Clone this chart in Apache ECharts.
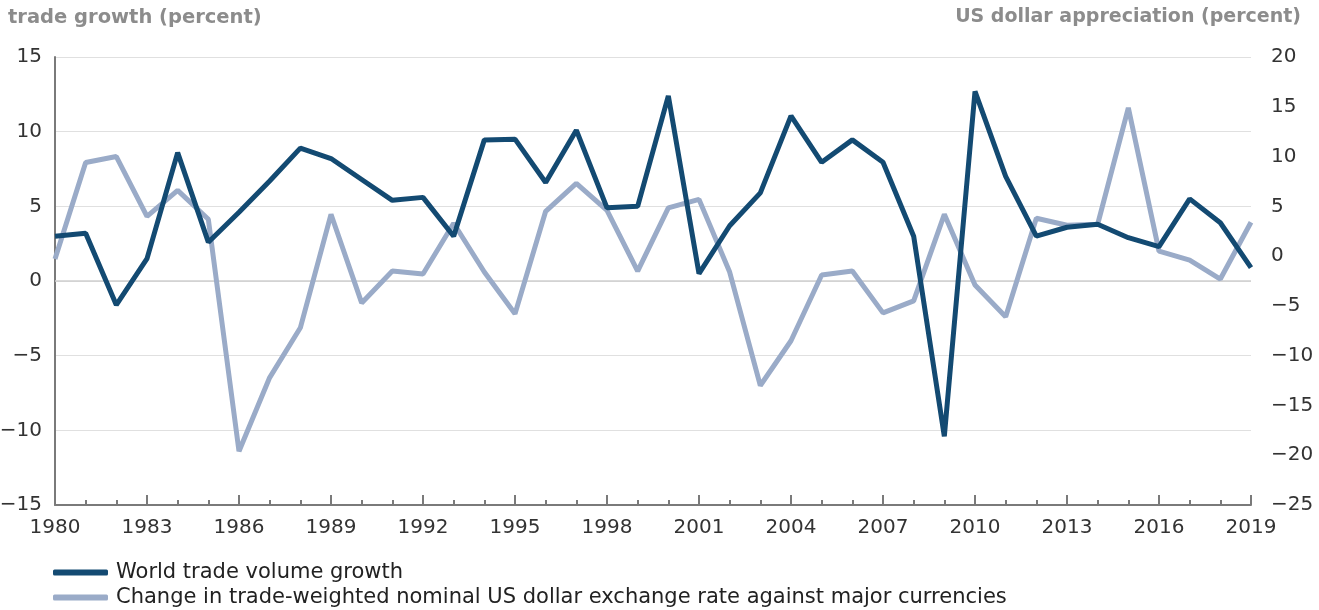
<!DOCTYPE html>
<html>
<head>
<meta charset="utf-8">
<script src="https://cdn.jsdelivr.net/npm/echarts@6/dist/echarts.min.js"></script>
<style>
  html, body { margin: 0; padding: 0; background: #fff; }
  #chart { width: 1319px; height: 610px; }
</style>
</head>
<body>
<div id="chart"></div>
<script>
const years = [];
for (let y = 1980; y <= 2019; y++) years.push(String(y));

// left axis: world trade volume growth (percent)
const tradeGrowth = [
  3.0, 3.2, -1.6, 1.5, 8.6, 2.6, 4.6, 6.7, 8.9, 8.2,
  6.8, 5.4, 5.6, 3.0, 9.45, 9.5, 6.6, 10.1, 4.9, 5.0,
  12.4, 0.5, 3.7, 5.9, 11.06, 7.95, 9.45, 7.95, 3.0, -10.4,
  12.7, 7.0, 3.0, 3.6, 3.8, 2.9, 2.3, 5.5, 3.9, 0.9
];
// right axis: US dollar appreciation (percent)
const dollarChange = [
  -0.3, 9.4, 10.0, 4.0, 6.6, 3.7, -19.6, -12.2, -7.2, 4.2,
  -4.7, -1.5, -1.8, 3.3, -1.6, -5.8, 4.5, 7.3, 4.6, -1.5,
  4.85, 5.7, -1.6, -13.0, -8.5, -1.9, -1.5, -5.7, -4.5, 4.2,
  -2.9, -6.1, 3.8, 3.1, 3.2, 14.9, 0.5, -0.4, -2.3, 3.4
];

const tradeName = 'World trade volume growth';
const dollarName = 'Change in trade-weighted nominal US dollar exchange rate against major currencies';

const darkBlue = '#134a72';
const lightBlue = '#9aabc8';
const font = '"DejaVu Sans", "Open Sans", sans-serif';
const minus = v => String(v).replace('-', '\u2212');

const legendBase = {
  left: 53, orient: 'vertical', padding: 0,
  itemWidth: 55, itemHeight: 6, itemGap: 0,
  icon: 'roundRect',
  textStyle: { fontSize: 21, color: '#222', fontFamily: font, padding: [0, 0, 0, 3] }
};

const chart = echarts.init(document.getElementById('chart'));
chart.setOption({
  animation: false,
  textStyle: { fontFamily: font },
  grid: { left: 55, right: 68, top: 57, bottom: 105, outerBoundsMode: 'none', containLabel: false },
  graphic: [
    { type: 'text', left: 8, top: 8,
      style: { text: 'trade growth (percent)', font: 'bold 19.5px ' + font, fill: '#8c8c8c' } },
    { type: 'text', right: 18, top: 8,
      style: { text: 'US dollar appreciation (percent)', font: 'bold 19px ' + font, fill: '#8c8c8c' } }
  ],
  legend: [
    Object.assign({}, legendBase, { top: 562, data: [tradeName] }),
    Object.assign({}, legendBase, { top: 587, data: [dollarName] })
  ],
  xAxis: [
    {
      type: 'category', data: years, boundaryGap: false,
      axisLine: { onZero: false, lineStyle: { color: '#7a7a7a', width: 2 } },
      axisTick: { inside: true, interval: 0, length: 5, lineStyle: { color: '#7a7a7a', width: 2 } },
      axisLabel: { interval: 2, color: '#333', fontSize: 20, margin: 13 },
      splitLine: { show: false }
    },
    {
      type: 'category', data: years, boundaryGap: false, position: 'bottom',
      axisLine: { show: false, onZero: false },
      axisTick: { inside: true, interval: 2, length: 10, lineStyle: { color: '#7a7a7a', width: 2 } },
      axisLabel: { show: false },
      splitLine: { show: false }
    }
  ],
  yAxis: [
    {
      type: 'value', min: -15, max: 15, interval: 5,
      axisLine: { show: true, lineStyle: { color: '#7a7a7a', width: 2 } },
      axisTick: { show: false },
      axisLabel: { color: '#333', fontSize: 20, margin: 13, formatter: minus },
      splitLine: { lineStyle: { color: '#e0e0e0', width: 1 } }
    },
    {
      type: 'value', min: -25, max: 20, interval: 5, position: 'right',
      axisLine: { show: false },
      axisTick: { show: false },
      axisLabel: { color: '#333', fontSize: 20, margin: 20, formatter: minus },
      splitLine: { show: false }
    }
  ],
  series: [
    {
      name: dollarName,
      type: 'line', yAxisIndex: 1, data: dollarChange,
      symbol: 'none', z: 2,
      lineStyle: { color: lightBlue, width: 5 },
      itemStyle: { color: lightBlue }
    },
    {
      name: tradeName,
      type: 'line', yAxisIndex: 0, data: tradeGrowth,
      symbol: 'none', z: 3,
      lineStyle: { color: darkBlue, width: 5 },
      itemStyle: { color: darkBlue },
      markLine: {
        silent: true, symbol: 'none', label: { show: false },
        lineStyle: { color: '#cfcfcf', width: 1.5, type: 'solid' },
        data: [{ yAxis: 0 }], z: 1
      }
    }
  ]
});
</script>
</body>
</html>
